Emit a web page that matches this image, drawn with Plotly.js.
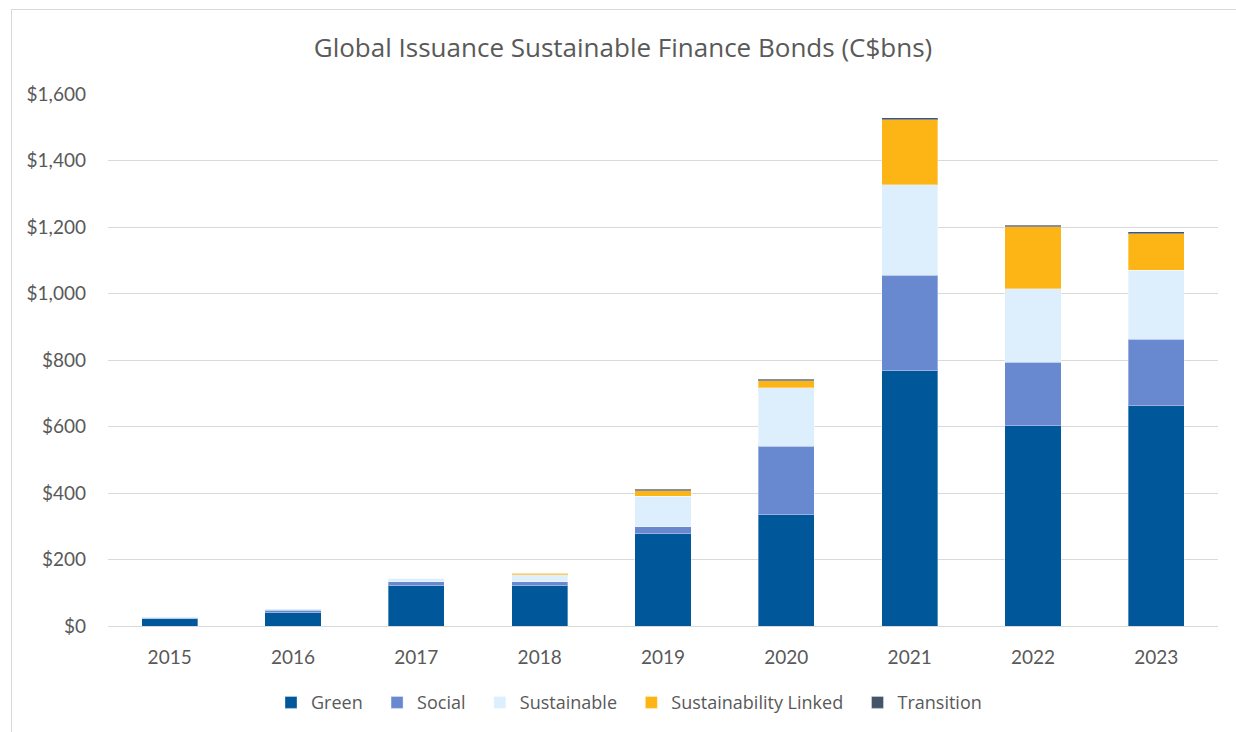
<!DOCTYPE html>
<html>
<head>
<meta charset="utf-8">
<script src="https://cdn.plot.ly/plotly-3.0.1.min.js"></script>
<style>
  html, body { margin: 0; padding: 0; background: #fff; }
  #chart { width: 1236px; height: 732px; position: relative; }
  #frame { position: absolute; left: 11px; top: 9px; width: 1230px; height: 730px; border: 1px solid #d9d9d9; pointer-events: none; }
</style>
</head>
<body>
<div id="chart"></div>
<div id="frame"></div>
<script>
const years = ['2015','2016','2017','2018','2019','2020','2021','2022','2023'];
const seriesNames = ['Green', 'Social', 'Sustainable', 'Sustainability Linked', 'Transition'];
const green = [22, 41, 121, 121, 278, 335, 767, 602, 662];
const social = [2, 6, 12, 12, 21, 206, 288, 191, 201];
const sustainable = [4, 5, 10, 21, 91, 176, 272, 222, 207];
const sustainabilityLinked = [0, 0, 0, 5, 17, 21, 195, 186, 110];
const transition = [0, 0, 0, 0, 4, 4, 6, 5, 5];
const yTicks = [0, 200, 400, 600, 800, 1000, 1200, 1400, 1600];
const yTickLabels = ['$0','$200','$400','$600','$800','$1,000','$1,200','$1,400','$1,600'];

const FONT = 'Lato, "Open Sans", sans-serif';
const FONT2 = '"Open Sans", Lato, sans-serif';
const edge = {color: 'rgba(255,255,255,0.35)', width: 1};
const PAD = '\u00a0\u00a0';
function tr(i, y, color) {
  const name = seriesNames[i] + (i < seriesNames.length - 1 ? PAD : '');
  return {type: 'bar', name: name, x: years, y: y,
    marker: {color: color, line: edge}, hoverinfo: 'x+y+name'};
}
const data = [
  tr(0, green, '#00579A'),
  tr(1, social, '#6888CF'),
  tr(2, sustainable, '#DDEFFC'),
  tr(3, sustainabilityLinked, '#FDB415'),
  tr(4, transition, '#44546A')
];
const layout = {
  width: 1236, height: 732,
  margin: {l: 108, r: 18, t: 94, b: 105},
  barmode: 'stack',
  bargap: 0.545,
  paper_bgcolor: '#fff', plot_bgcolor: '#fff',
  font: {family: FONT, color: '#595959', size: 19},
  title: {text: 'Global Issuance Sustainable Finance Bonds (C$bns)',
    font: {family: FONT2, size: 26, color: '#595959'},
    x: 623/1236, xanchor: 'center', y: 1 - 48/732, yanchor: 'middle', yref: 'container'},
  xaxis: {type: 'category', showgrid: false, zeroline: false, showline: true,
    linecolor: '#d9d9d9', linewidth: 1, ticks: '', ticklabelstandoff: 14,
    tickfont: {family: FONT, size: 19, color: '#595959'}},
  yaxis: {range: [0, 1600], tickvals: yTicks, ticktext: yTickLabels,
    showgrid: true, gridcolor: '#d9d9d9', gridwidth: 1, zeroline: false,
    ticks: '', ticklabelstandoff: 21,
    tickfont: {family: FONT, size: 19, color: '#595959'}},
  legend: {orientation: 'h', x: 629/1236 * 1236/1110 - 108/1110, xanchor: 'center', y: -0.142, yanchor: 'middle',
    font: {family: FONT2, size: 18, color: '#595959'}, itemwidth: 30,
    traceorder: 'normal'},
  showlegend: true
};
Plotly.newPlot('chart', data, layout, {displayModeBar: false, staticPlot: true});
</script>
</body>
</html>
